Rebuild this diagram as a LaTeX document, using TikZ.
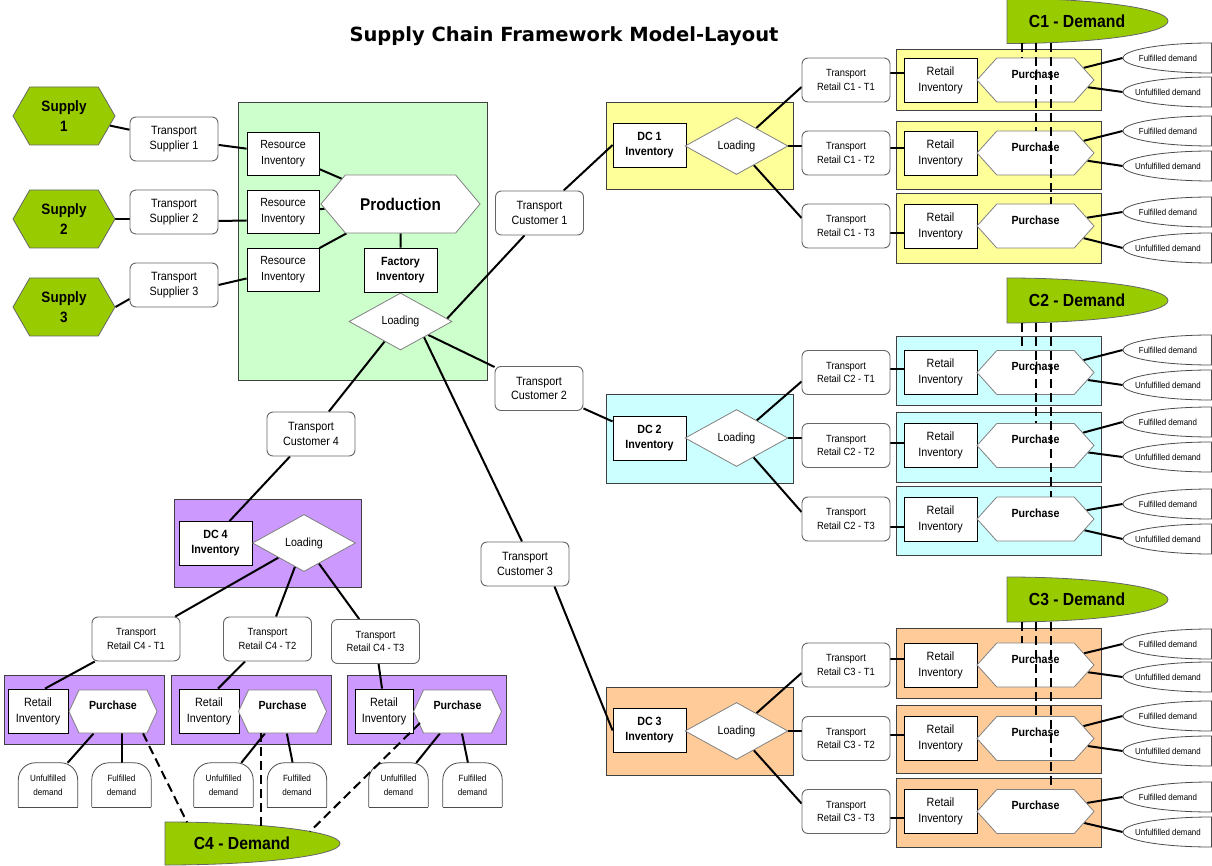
\documentclass[tikz,border=0pt]{standalone}
\usepackage{fontspec}
\setmainfont{Liberation Sans}[FakeStretch=0.9]
\newfontfamily\titlefont{DejaVu Sans}
\usetikzlibrary{shapes.geometric,shapes.symbols,fit}

\definecolor{leaf}{HTML}{99CC00}
\definecolor{mint}{HTML}{CCFFCC}
\definecolor{lemon}{HTML}{FFFF99}
\definecolor{aqua}{HTML}{CCFFFF}
\definecolor{peach}{HTML}{FFCC99}
\definecolor{lilac}{HTML}{CC99FF}

\pgfdeclarelayer{boxes}
\pgfdeclarelayer{wires}
\pgfdeclarelayer{top}
\pgfsetlayers{boxes,wires,main,top}

% label of a purchase step, set a little above the middle of its hexagon
\newcommand\buylabel{\raisebox{1.8pt}[0pt][0pt]{Purchase}}

\tikzset{
  base/.style={inner sep=0pt, align=center, text=black},
  supply/.style={base, signal, signal to=east and west, signal pointer angle=120,
    minimum width=102, minimum height=58, fill=leaf, draw=black!60, line width=0.8pt,
    font=\fontsize{15}{20}\selectfont\bfseries},
  hexa/.style={base, signal, signal to=east and west, fill=white, draw=black!50, line width=0.8pt},
  prodhex/.style={hexa, signal pointer angle=100, minimum width=159, minimum height=58,
    font=\fontsize{17}{20}\selectfont\bfseries},
  buy/.style={hexa, signal pointer angle=96, minimum width=117, minimum height=44,
    font=\fontsize{11.8}{14}\selectfont\bfseries},
  buysm/.style={hexa, signal pointer angle=130, minimum width=88, minimum height=43,
    font=\fontsize{11.8}{14}\selectfont\bfseries},
  load/.style={base, diamond, minimum width=103, minimum height=57, fill=white,
    draw=black!50, line width=0.8pt, font=\fontsize{11.8}{14}\selectfont},
  stock/.style={base, rectangle, draw=black, fill=white, line width=0.8pt,
    minimum width=73, minimum height=44},
  resinv/.style={stock, minimum width=72, minimum height=43, font=\fontsize{11.8}{16}\selectfont},
  retinv/.style={stock, font=\fontsize{12}{16}\selectfont},
  retinvsm/.style={stock, minimum width=60, font=\fontsize{12}{16}\selectfont},
  dcinv/.style={stock, font=\fontsize{11.9}{15}\selectfont\bfseries},
  carrier/.style={base, rectangle, rounded corners=6pt, draw=black!60, fill=white,
    line width=0.9pt, minimum width=88, minimum height=44},
  trbig/.style={carrier, font=\fontsize{12}{14.5}\selectfont},
  trret/.style={carrier, font=\fontsize{10.4}{13.5}\selectfont},
  outcome/.style={base, ellipse, draw=black!70, fill=white, line width=0.8pt,
    minimum width=176, minimum height=30},
  outtext/.style={font=\fontsize{8.8}{10}\selectfont, xshift=-43pt},
  arch/.style={base, minimum width=59, minimum height=44, font=\fontsize{9}{14}\selectfont},
  archline/.style={draw=black!70, line width=0.8pt, rounded corners=17pt},
  grp/.style={rectangle, draw=black!75, line width=0.9pt, inner sep=0pt},
  wire/.style={line width=2pt, black},
  demline/.style={line width=2pt, black, dash pattern=on 9pt off 5pt},
  demshape/.style={fill=leaf, draw=black!60, line width=0.8pt},
  demtext/.style={base, font=\fontsize{17.5}{20}\selectfont\bfseries},
}

\begin{document}
\begin{tikzpicture}[x=1pt, y=-1pt]
\useasboundingbox (0,0) rectangle (1212,866);

\node[font=\titlefont\fontsize{19.5}{23}\selectfont\bfseries] (title) at (564,36)
  {Supply Chain Framework Model-Layout};

% ---------- suppliers ----------
\node[supply] (s1) at (64,116) {Supply\\1};
\node[supply] (s2) at (64,219) {Supply\\2};
\node[supply] (s3) at (64,307) {Supply\\3};
\node[trbig] (ts1) at (174,139) {Transport\\Supplier 1};
\node[trbig] (ts2) at (174,212) {Transport\\Supplier 2};
\node[trbig] (ts3) at (174,285) {Transport\\Supplier 3};

% ---------- coloured group areas ----------
\begin{pgfonlayer}{boxes}
  \node[grp, fill=mint, fit={(238,102) (487,380)}] (factory) {};
  \node[grp, fill=lemon, fit={(606,102) (793,189)}] (dc1) {};
  \node[grp, fill=aqua, fit={(606,394) (793,483)}] (dc2) {};
  \node[grp, fill=peach, fit={(606,687) (793,775)}] (dc3) {};
  \node[grp, fill=lilac, fit={(174,499) (361,587)}] (dc4) {};
  \node[grp, fill=lilac, fit={(4,675) (164,744)}] (r41) {};
  \node[grp, fill=lilac, fit={(171,675) (331,744)}] (r42) {};
  \node[grp, fill=lilac, fit={(347,675) (506,744)}] (r43) {};
\end{pgfonlayer}

% ---------- factory ----------
\node[resinv] (ri1) at (283,153.5) {Resource\\Inventory};
\node[resinv] (ri2) at (283,211.5) {Resource\\Inventory};
\node[resinv] (ri3) at (283,270) {Resource\\Inventory};
\node[prodhex] (prod) at (400.5,204) {Production};
\node[dcinv] (fi) at (400.5,270) {Factory\\Inventory};
\node[load] (ld0) at (400.5,321.5) {Loading};

% ---------- customer transport ----------
\node[trbig] (tc1) at (539.5,213) {Transport\\Customer 1};
\node[trbig] (tc2) at (539,388.5) {Transport\\Customer 2};
\node[trbig] (tc3) at (525,564) {Transport\\Customer 3};
\node[trbig] (tc4) at (311,434) {Transport\\Customer 4};

% ---------- distribution centres ----------
\node[dcinv] (d1) at (649.5,145) {DC 1\\Inventory};
\node[load] (ld1) at (736.5,146) {Loading};
\node[dcinv] (d2) at (649.5,438) {DC 2\\Inventory};
\node[load] (ld2) at (736.5,438) {Loading};
\node[dcinv] (d3) at (649.5,730.5) {DC 3\\Inventory};
\node[load] (ld3) at (736.5,731) {Loading};
\node[dcinv] (d4) at (215.5,543.5) {DC 4\\Inventory};
\node[load] (ld4) at (304,543) {Loading};

% ---------- retail rows of customers 1-3 ----------
\foreach \ci/\ti/\y/\gt/\gb/\fy/\uy/\sh/\col in {
  1/1/80/49/110/58/92/7/lemon,
  1/2/153/121/189/131/166/5/lemon,
  1/3/226/193/263/212/248/-7/lemon,
  2/1/372.5/336/405/350/385/4/aqua,
  2/2/445.5/412/482/422/457/3/aqua,
  2/3/519/486/555/504/539/-8/aqua,
  3/1/665/628/698/644/677/6/peach,
  3/2/738.5/705/773/716/751/4/peach,
  3/3/811.5/778/847/797/832/-6/peach}{
  \begin{pgfonlayer}{boxes}
    \node[grp, fill=\col, fit={(896,\gt) (1101,\gb)}] (r\ci\ti) {};
  \end{pgfonlayer}
  \node[trret] (t\ci\ti) at (846,\y) {Transport\\Retail C\ci\ - T\ti};
  \node[retinv] (ri\ci\ti) at (940.5,\y) {Retail\\Inventory};
  \node[buy] (p\ci\ti) at (1035.5,\y) {\buylabel};
  \node[outcome, label={[outtext]center:Fulfilled demand}] (f\ci\ti) at (1211,\fy) {};
  \node[outcome, label={[outtext]center:Unfulfilled demand}] (u\ci\ti) at (1211,\uy) {};
  \draw[black!70, line width=0.8pt] (f\ci\ti.north) -- (f\ci\ti.south);
  \draw[black!70, line width=0.8pt] (u\ci\ti.north) -- (u\ci\ti.south);
  \begin{pgfonlayer}{wires}
    \draw[wire] ([yshift=\sh]t\ci\ti.east) -- ([yshift=\sh]ri\ci\ti.west);
    \draw[wire] (p\ci\ti) -- (f\ci\ti.west);
    \draw[wire] (p\ci\ti) -- (u\ci\ti.west);
  \end{pgfonlayer}
}

% ---------- retail of customer 4 ----------
\node[trret] (t41) at (136,639) {Transport\\Retail C4 - T1};
\node[trret] (t42) at (267.5,639) {Transport\\Retail C4 - T2};
\node[trret] (t43) at (375.5,641.5) {Transport\\Retail C4 - T3};
\node[retinvsm] (ri41) at (38,711) {Retail\\Inventory};
\node[retinvsm] (ri42) at (209,711) {Retail\\Inventory};
\node[retinvsm, minimum width=58] (ri43) at (384,711) {Retail\\Inventory};
\node[buysm] (p41) at (113,711.5) {\buylabel};
\node[buysm] (p42) at (282.5,711.5) {\buylabel};
\node[buysm] (p43) at (457.5,711.5) {\buylabel};
\node[arch] (u41) at (48,785) {Unfulfilled\\demand};
\node[arch] (f41) at (121.5,785) {Fulfilled\\demand};
\node[arch] (u42) at (223.5,785) {Unfulfilled\\demand};
\node[arch] (f42) at (297,785) {Fulfilled\\demand};
\node[arch] (u43) at (398.5,785) {Unfulfilled\\demand};
\node[arch] (f43) at (472.5,785) {Fulfilled\\demand};
\foreach \a in {u41,f41,u42,f42,u43,f43}{
  \draw[archline] (\a.south west) -- (\a.north west) -- (\a.north east) -- (\a.south east);
  \draw[archline] (\a.south west) -- (\a.south east);
}

% ---------- demand sources ----------
\foreach \ci/\cy in {1/21, 2/300.5, 3/599.5}{
  \draw[demshape] (1007,\cy-22.5) arc[start angle=90, end angle=-90,
    x radius=161pt, y radius=22.5pt] -- cycle;
  \coordinate (cb\ci) at (1007,\cy+22.5);
  \node[demtext] (dem\ci) at (1077,\cy) {C\ci\ - Demand};
}
\draw[demshape] (165,822) arc[start angle=90, end angle=-90,
  x radius=175pt, y radius=21.5pt] -- cycle;
\node[demtext] (dem4) at (242,843) {C4 - Demand};
\coordinate (c4a) at (187,822.2);
\coordinate (c4b) at (261,825.5);
\coordinate (c4c) at (310,831.5);

% ---------- connectors ----------
\begin{pgfonlayer}{wires}
  \draw[wire] (s1) -- (ts1);
  \draw[wire] (s2.east) -- (s2.east -| ts2.west);
  \draw[wire] (s3.east) -- ([yshift=-14]ts3.west);
  \draw[wire] (ts1) -- (ri1);
  \draw[wire] ([yshift=-9]ts2.east) -- ([yshift=-9]ri2.west);
  \draw[wire] (ts3.east) -- (ri3);
  \draw[wire] (ri1) -- (prod);
  \draw[wire] (ri2) -- (prod);
  \draw[wire] (ri3.north east) -- (prod);
  \draw[wire] (prod) -- (fi);
  \draw[wire] ([xshift=-8]ld0.east) -- ([xshift=-15]tc1.south);
  \draw[wire] (tc1) -- (d1.west);
  \draw[wire] (ld0) -- (tc2);
  \draw[wire] (tc2) -- (d2);
  \draw[wire] ([xshift=16]ld0.center) -- ([xshift=-3]tc3.north);
  \draw[wire] ([xshift=-15]tc3.south east) -- (d3.west);
  \draw[wire] (ld0) -- (tc4);
  \draw[wire] (tc4) -- ([xshift=14]d4.north);
  % distribution centres to retail transport
  \draw[wire] (ld1) -- ([yshift=-7]t11.west);
  \draw[wire] (ld1.east) -- (ld1.east -| t12.west);
  \draw[wire] (ld1) -- ([yshift=8]t13.west);
  \draw[wire] (ld2) -- ([yshift=-9]t21.west);
  \draw[wire] (ld2.east) -- (ld2.east -| t22.west);
  \draw[wire] (ld2) -- ([yshift=7]t23.west);
  \draw[wire] (ld3) -- ([yshift=-8]t31.west);
  \draw[wire] (ld3.east) -- (ld3.east -| t32.west);
  \draw[wire] (ld3) -- ([yshift=8]t33.west);
  \draw[wire] (ld4) -- (t41);
  \draw[wire] (ld4) -- (t42);
  \draw[wire] (ld4) -- (t43);
  \draw[wire] (t41) -- ([xshift=7]ri41.north);
  \draw[wire] (t42) -- ([xshift=9]ri42.north);
  \draw[wire] (t43) -- ([xshift=-2]ri43.north);
  \draw[wire] (p41) -- (u41);
  \draw[wire] (f41.north) -- (f41.north |- p41.center);
  \draw[wire] (p42) -- (u42);
  \draw[wire] (p42) -- (f42);
  \draw[wire] (p43) -- (u43);
  \draw[wire] (p43) -- (f43);
\end{pgfonlayer}

% ---------- demand signals ----------
\begin{pgfonlayer}{top}
  \foreach \ci in {1,2,3}{
    \draw[demline] ([xshift=-13.5]p\ci1.north |- cb\ci) -- ([xshift=-13.5]p\ci1.north);
    \draw[demline] ([xshift=0.5]p\ci2.north |- cb\ci) -- ([xshift=0.5]p\ci2.north);
    \draw[demline] ([xshift=15.5]p\ci3.north |- cb\ci) -- ([xshift=15.5]p\ci3.north);
  }
  \draw[demline] ([xshift=30]p41.south) -- (c4a);
  \draw[demline] ([xshift=-21.5]p42.south) -- (c4b);
  \draw[demline] ([xshift=-37.5,yshift=-11.5]p43.center) -- (c4c);
\end{pgfonlayer}
\end{tikzpicture}
\end{document}
